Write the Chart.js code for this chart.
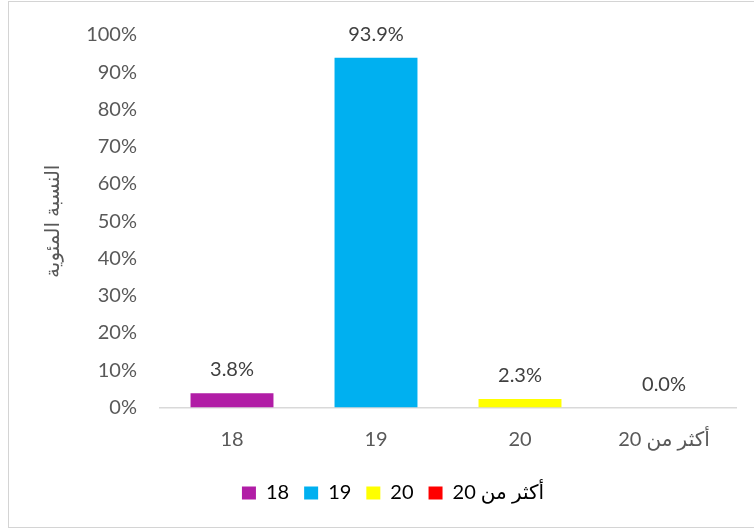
<!DOCTYPE html>
<html>
<head>
<meta charset="utf-8">
<script src="https://cdn.jsdelivr.net/npm/chart.js@4.4.1/dist/chart.umd.min.js"></script>
<style>
  html, body { margin: 0; padding: 0; background: #ffffff; width: 754px; height: 531px; overflow: hidden; }
  #frame { position: absolute; left: 8px; top: 1px; width: 800px; height: 527px; border: 1px solid #d4d4d4; box-sizing: border-box; }
  #c { position: absolute; left: 0; top: 0; }
</style>
</head>
<body>
<div id="frame"></div>
<canvas id="c" width="754" height="531"></canvas>
<script>
const categories = ['18', '19', '20', 'أكثر من 20'];
const percentValues = [3.8, 93.9, 2.3, 0.0];
const barColors = ['#B11DA6', '#00B0F0', '#FFFF00', '#FF0000'];
const yTickValues = [0, 10, 20, 30, 40, 50, 60, 70, 80, 90, 100];
const yAxisTitle = 'النسبة المئوية';

const FONT = 'Lato, "DejaVu Sans", sans-serif';
const TEXT = '#595959';
const FS = 20;

const valueLabels = {
  id: 'valueLabels',
  afterDatasetsDraw(chart) {
    const ctx = chart.ctx;
    const meta = chart.getDatasetMeta(0);
    ctx.save();
    ctx.font = FS + 'px ' + FONT;
    ctx.fillStyle = '#404040';
    ctx.textAlign = 'center';
    ctx.textBaseline = 'alphabetic';
    meta.data.forEach((bar, i) => {
      const v = chart.data.datasets[0].data[i];
      ctx.fillText(v.toFixed(1) + '%', bar.x, bar.y - 17);
    });
    ctx.restore();
  }
};

const legendShift = {
  id: 'legendShift',
  afterLayout(chart) {
    const dx = 25;
    chart.legend.left += dx;
    chart.legend.right += dx;
  }
};

new Chart(document.getElementById('c'), {
  type: 'bar',
  data: {
    labels: categories,
    datasets: [{
      data: percentValues,
      backgroundColor: barColors,
      borderWidth: 0,
      barPercentage: 0.576,
      categoryPercentage: 1.0
    }]
  },
  options: {
    responsive: false,
    animation: false,
    layout: { padding: { top: 32, right: 18, bottom: 18, left: 0 } },
    plugins: {
      tooltip: { enabled: false },
      legend: {
        display: true,
        position: 'bottom',
        labels: {
          boxWidth: 14,
          boxHeight: 13,
          padding: 15,
          color: TEXT,
          font: { family: FONT, size: FS },
          generateLabels(chart) {
            return categories.map((c, i) => ({
              text: c,
              fillStyle: barColors[i],
              strokeStyle: barColors[i],
              lineWidth: 0,
              hidden: false,
              index: i,
              datasetIndex: 0
            }));
          }
        }
      }
    },
    scales: {
      x: {
        grid: { display: false, drawTicks: false },
        border: { display: true, color: '#d9d9d9', width: 1.5 },
        ticks: { color: TEXT, font: { family: FONT, size: FS }, padding: 20, maxRotation: 0 },
        afterFit(scale) { scale.height = 60.5; }
      },
      y: {
        min: 0,
        max: 100,
        afterBuildTicks(scale) { scale.ticks = yTickValues.map(v => ({ value: v })); },
        grid: { display: false, drawTicks: false },
        border: { display: false },
        ticks: { color: TEXT, font: { family: FONT, size: FS }, padding: 23, callback: v => v + '%' },
        title: {
          display: true,
          text: yAxisTitle,
          color: TEXT,
          font: { family: FONT, size: 20 },
          padding: { top: 41, bottom: 0 }
        },
        afterFit(scale) { scale.width = 160; }
      }
    }
  },
  plugins: [valueLabels, legendShift]
});
</script>
</body>
</html>
